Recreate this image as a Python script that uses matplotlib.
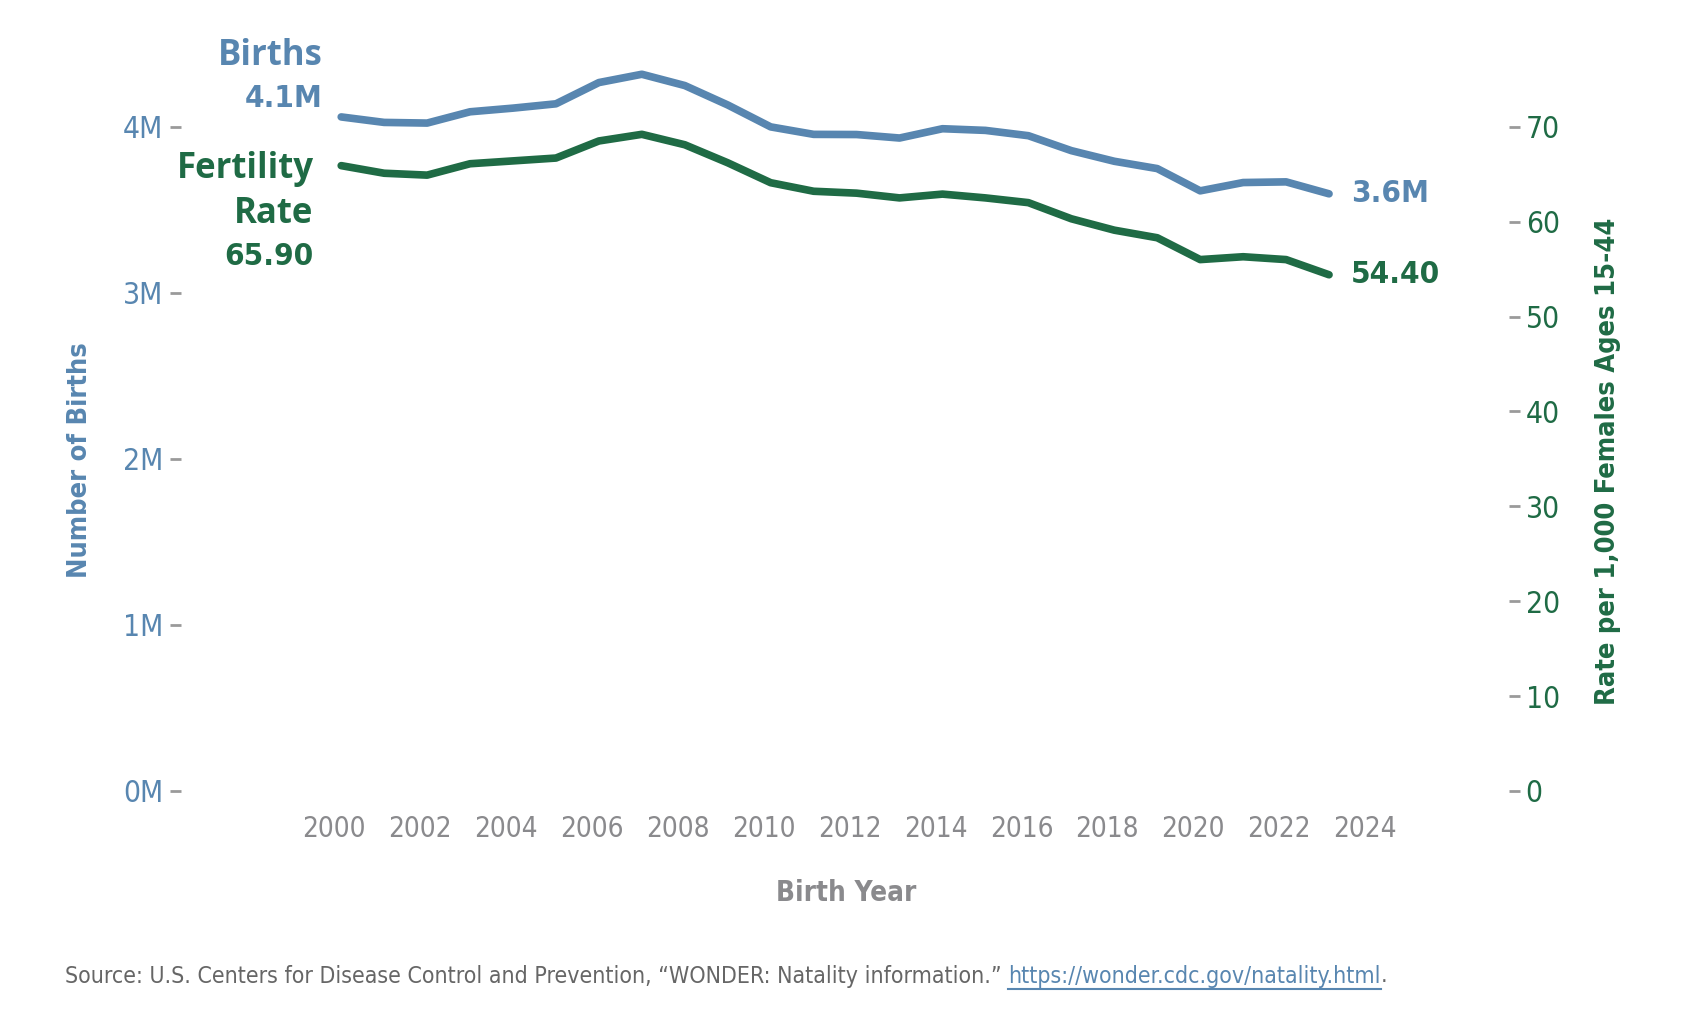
import matplotlib
matplotlib.use("Agg")
import matplotlib.pyplot as plt
import numpy as np
from matplotlib import font_manager

# data
years = list(range(2000, 2024))
births = [4.059, 4.026, 4.022, 4.090, 4.112, 4.138, 4.266, 4.316, 4.248, 4.131,
          3.999, 3.954, 3.953, 3.932, 3.988, 3.978, 3.946, 3.856, 3.792, 3.748,
          3.614, 3.664, 3.668, 3.596]  # millions
fert_rate = [65.9, 65.1, 64.9, 66.1, 66.4, 66.7, 68.5, 69.2, 68.1, 66.2,
             64.1, 63.2, 63.0, 62.5, 62.9, 62.5, 62.0, 60.3, 59.1, 58.3,
             56.0, 56.3, 56.0, 54.4]
left_ticks = [0, 1, 2, 3, 4]
left_labels = ["0M", "1M", "2M", "3M", "4M"]
right_ticks = [0, 10, 20, 30, 40, 50, 60, 70]
x_ticks = list(range(2000, 2025, 2))

BLUE = "#5886b0"
GREEN = "#1f6b45"
GREY = "#8a8a8d"
TICKC = "#9a9a9a"

names = {f.name for f in font_manager.fontManager.ttflist}
NARROW = "Liberation Sans Narrow" if "Liberation Sans Narrow" in names else "DejaVu Sans"
WIDE = "Open Sans" if "Open Sans" in names else "DejaVu Sans"
plt.rcParams['font.family'] = [NARROW, 'DejaVu Sans']
plt.rcParams['font.stretch'] = 'condensed'

W, H = 1690, 1015
fig = plt.figure(figsize=(W / 100, H / 100), dpi=100)
ax = fig.add_axes([181 / W, (H - 791) / H, (1509 - 181) / W, (791 - 52) / H])
ax2 = ax.twinx()

ax.plot(years, births, color=BLUE, lw=5.5, solid_capstyle="round", solid_joinstyle="round")
ax2.plot(years, fert_rate, color=GREEN, lw=5.5, solid_capstyle="round", solid_joinstyle="round")

ax.set_xlim(1996.27, 2027.19)
ax.set_ylim(0, 4.45)
ax2.set_ylim(0, 4.45 * 70 / 4)

for a in (ax, ax2):
    for s in a.spines.values():
        s.set_visible(False)

ax.set_yticks(left_ticks)
ax.set_yticklabels(left_labels)
ax.tick_params(axis="y", colors=TICKC, labelcolor=BLUE, labelsize=21.5, length=8, width=2, pad=5)
ax2.set_yticks(right_ticks)
ax2.tick_params(axis="y", colors=TICKC, labelcolor=GREEN, labelsize=21.5, length=8, width=2, pad=4)

ax.set_xticks([y - 0.16 for y in x_ticks])
ax.set_xticklabels([str(y) for y in x_ticks])
ax.tick_params(axis="x", length=0, labelcolor=GREY, labelsize=20, pad=17)

# series labels at the start/end of the lines
def lab(a, x, y, txt, dx, dy, color, family, ha, size):
    a.annotate(txt, xy=(x, y), xytext=(dx, dy), textcoords="offset points",
               ha=ha, va="center", color=color, fontsize=size, fontweight="bold",
               family=family)

lab(ax, years[0], births[0], "Births", -13.5, 44, BLUE, WIDE, "right", 25)
lab(ax, years[0], births[0], "4.1M", -13.5, 13.5, BLUE, NARROW, "right", 22.5)
lab(ax2, years[0], fert_rate[0], "Fertility", -20, -2.5, GREEN, WIDE, "right", 25)
lab(ax2, years[0], fert_rate[0], "Rate", -20, -34.5, GREEN, WIDE, "right", 25)
lab(ax2, years[0], fert_rate[0], "65.90", -20, -65.5, GREEN, NARROW, "right", 22.5)
lab(ax, years[-1], births[-1], "3.6M", 16, 0, BLUE, NARROW, "left", 22.5)
lab(ax2, years[-1], fert_rate[-1], "54.40", 16, 0, GREEN, NARROW, "left", 22.5)

fig.text(80 / W, 1 - 460 / H, "Number of Births", rotation=90, ha="center", va="center",
         color=BLUE, fontsize=19.5, fontweight="bold")
fig.text(1608 / W, 1 - 461 / H, "Rate per 1,000 Females Ages 15-44", rotation=90,
         ha="center", va="center", color=GREEN, fontsize=19.5, fontweight="bold")
fig.text(846 / W, 1 - 893 / H, "Birth Year", ha="center", va="center",
         color=GREY, fontsize=20, fontweight="bold")

# source line with underlined link
FS = 16.6
src = fig.text(65 / W, 1 - 976 / H,
               "Source: U.S. Centers for Disease Control and Prevention, \u201cWONDER: Natality information.\u201d ",
               ha="left", va="center", color="#666666", fontsize=FS)
r = fig.canvas.get_renderer()
bb = src.get_window_extent(r)
link = fig.text(bb.x1 / W, 1 - 976 / H, "https://wonder.cdc.gov/natality.html",
                ha="left", va="center", color=BLUE, fontsize=FS)
lb = link.get_window_extent(r)
fig.add_artist(plt.Line2D([lb.x0 / W, lb.x1 / W], [(lb.y0 - 1) / H, (lb.y0 - 1) / H],
                          color=BLUE, lw=1.5))
fig.text(lb.x1 / W, 1 - 976 / H, ".", ha="left", va="center", color="#666666", fontsize=FS)

fig.savefig("out.png", dpi=100, facecolor="white")
